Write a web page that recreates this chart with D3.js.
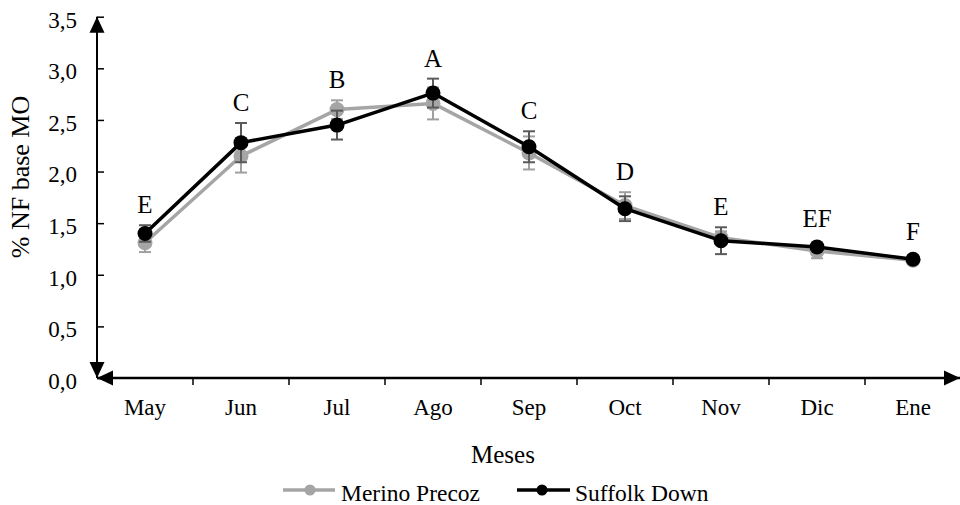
<!DOCTYPE html>
<html>
<head>
<meta charset="utf-8">
<script src="https://cdn.jsdelivr.net/npm/d3@7"></script>
<style>
  html, body { margin: 0; padding: 0; background: #fff; }
  svg { display: block; }
</style>
</head>
<body>
<svg id="chart" width="960" height="505" font-family="Liberation Serif, DejaVu Serif, serif"></svg>
<script>
// Monthly % NF (organic matter basis) for two sheep breeds
const months = ["May", "Jun", "Jul", "Ago", "Sep", "Oct", "Nov", "Dic", "Ene"];
const merinoValues = [1.31, 2.15, 2.60, 2.66, 2.18, 1.67, 1.36, 1.23, 1.14];
const merinoErrors = [0.09, 0.16, 0.09, 0.155, 0.16, 0.13, 0.06, 0.07, 0.02];
const suffolkValues = [1.40, 2.28, 2.45, 2.76, 2.24, 1.64, 1.33, 1.27, 1.15];
const suffolkErrors = [0.08, 0.19, 0.14, 0.14, 0.15, 0.12, 0.13, 0.03, 0.02];
const letters = ["E", "C", "B", "A", "C", "D", "E", "EF", "F"];
const yTicks = [0, 0.5, 1, 1.5, 2, 2.5, 3, 3.5];
const seriesNames = ["Merino Precoz", "Suffolk Down"];

const serif = "Liberation Serif, DejaVu Serif, serif";
const svg = d3.select("#chart");
const plotLeft = 97, plotRight = 961, plotTop = 16.7, plotBottom = 378;

const x = d3.scaleBand().domain(months).range([plotLeft, plotRight]).padding(0);
const y = d3.scaleLinear().domain([0, 3.5]).range([plotBottom, plotTop]);
const cx = m => x(m) + x.bandwidth() / 2;

const series = [
  { name: seriesNames[0], values: merinoValues, errors: merinoErrors,
    color: "#a5a5a5", errColor: "#a0a0a0" },
  { name: seriesNames[1], values: suffolkValues, errors: suffolkErrors,
    color: "#000000", errColor: "#5a5a5a" }
];

// Y axis: inward ticks, labels to the left
const yAxis = d3.axisLeft(y)
  .tickValues(yTicks)
  .tickSizeInner(-7)
  .tickSizeOuter(0)
  .tickPadding(20)
  .tickFormat(d => d3.format(".1f")(d).replace(".", ","));
const gy = svg.append("g").attr("transform", `translate(${plotLeft},0)`).call(yAxis);
gy.attr("font-family", serif);
gy.select(".domain").remove();
gy.selectAll(".tick line").attr("stroke", "#000").attr("stroke-width", 1.5);
gy.selectAll(".tick text").attr("font-size", 23).attr("dy", "0.45em").attr("fill", "#000");

// X axis: month labels centred in each band
const xAxis = d3.axisBottom(x).tickSize(0).tickPadding(21);
const gx = svg.append("g").attr("transform", `translate(0,${plotBottom})`).call(xAxis);
gx.attr("font-family", serif);
gx.select(".domain").remove();
gx.selectAll(".tick text").attr("font-size", 23).attr("fill", "#000");

// Tick marks between categories
svg.append("g").selectAll("line")
  .data(months.slice(1))
  .join("line")
  .attr("x1", d => x(d)).attr("x2", d => x(d))
  .attr("y1", plotBottom).attr("y2", plotBottom + 7)
  .attr("stroke", "#000").attr("stroke-width", 1.5);

// Axis lines with arrowheads
svg.append("line").attr("x1", plotLeft).attr("x2", plotLeft)
  .attr("y1", plotTop).attr("y2", plotBottom)
  .attr("stroke", "#000").attr("stroke-width", 2);
svg.append("line").attr("x1", plotLeft).attr("x2", 960)
  .attr("y1", plotBottom).attr("y2", plotBottom)
  .attr("stroke", "#000").attr("stroke-width", 2.5);

const arrows = [
  [[plotLeft, plotTop], [plotLeft - 7.5, plotTop + 16], [plotLeft + 7.5, plotTop + 16]],
  [[plotLeft, plotBottom], [plotLeft - 7.5, plotBottom - 16], [plotLeft + 7.5, plotBottom - 16]],
  [[plotLeft, plotBottom], [plotLeft + 16, plotBottom - 7.5], [plotLeft + 16, plotBottom + 7.5]],
  [[960, plotBottom], [944, plotBottom - 7.5], [944, plotBottom + 7.5]]
];
svg.append("g").selectAll("path")
  .data(arrows)
  .join("path")
  .attr("d", d => "M" + d.join("L") + "Z")
  .attr("fill", "#000");

// Series: line, error bars, markers
const line = d3.line().x((d, i) => cx(months[i])).y(d => y(d));
series.forEach(s => {
  const g = svg.append("g");
  g.append("path")
    .datum(s.values)
    .attr("d", line)
    .attr("fill", "none")
    .attr("stroke", s.color)
    .attr("stroke-width", 3.5)
    .attr("stroke-linejoin", "round");

  const eb = g.append("g").selectAll("g")
    .data(s.values.map((v, i) => ({ m: months[i], v, e: s.errors[i] })))
    .join("g")
    .attr("stroke", s.errColor)
    .attr("stroke-width", 2);
  eb.append("line")
    .attr("x1", d => cx(d.m)).attr("x2", d => cx(d.m))
    .attr("y1", d => y(d.v - d.e)).attr("y2", d => y(d.v + d.e));
  eb.append("line")
    .attr("x1", d => cx(d.m) - 6).attr("x2", d => cx(d.m) + 6)
    .attr("y1", d => y(d.v + d.e)).attr("y2", d => y(d.v + d.e));
  eb.append("line")
    .attr("x1", d => cx(d.m) - 6).attr("x2", d => cx(d.m) + 6)
    .attr("y1", d => y(d.v - d.e)).attr("y2", d => y(d.v - d.e));

  g.append("g").selectAll("circle")
    .data(s.values)
    .join("circle")
    .attr("cx", (d, i) => cx(months[i]))
    .attr("cy", d => y(d))
    .attr("r", 7.5)
    .attr("fill", s.color);
});

// Significance letters above the highest mark of each month
svg.append("g").selectAll("text")
  .data(letters)
  .join("text")
  .attr("x", (d, i) => cx(months[i]))
  .attr("y", (d, i) => {
    const tops = series.map(s => Math.min(y(s.values[i] + s.errors[i]), y(s.values[i]) - 7.5));
    return Math.min(...tops) - 12;
  })
  .attr("text-anchor", "middle")
  .attr("font-size", 25)
  .text(d => d);

// Axis titles
svg.append("text")
  .attr("transform", "translate(29,177) rotate(-90)")
  .attr("text-anchor", "middle")
  .attr("font-size", 26)
  .text("% NF base MO");
svg.append("text")
  .attr("x", 503).attr("y", 463)
  .attr("text-anchor", "middle")
  .attr("font-size", 25)
  .text("Meses");

// Legend
const legendItems = [
  { s: series[0], x0: 283, x1: 335, mx: 310, tx: 341 },
  { s: series[1], x0: 517, x1: 570, mx: 542, tx: 575 }
];
const lg = svg.append("g").selectAll("g").data(legendItems).join("g");
lg.append("line")
  .attr("x1", d => d.x0).attr("x2", d => d.x1)
  .attr("y1", 490).attr("y2", 490)
  .attr("stroke", d => d.s.color).attr("stroke-width", 3.5);
lg.append("circle")
  .attr("cx", d => d.mx).attr("cy", 490).attr("r", 5.5)
  .attr("fill", d => d.s.color);
lg.append("text")
  .attr("x", d => d.tx).attr("y", 501)
  .attr("font-size", 23.5)
  .text(d => d.s.name);
</script>
</body>
</html>
